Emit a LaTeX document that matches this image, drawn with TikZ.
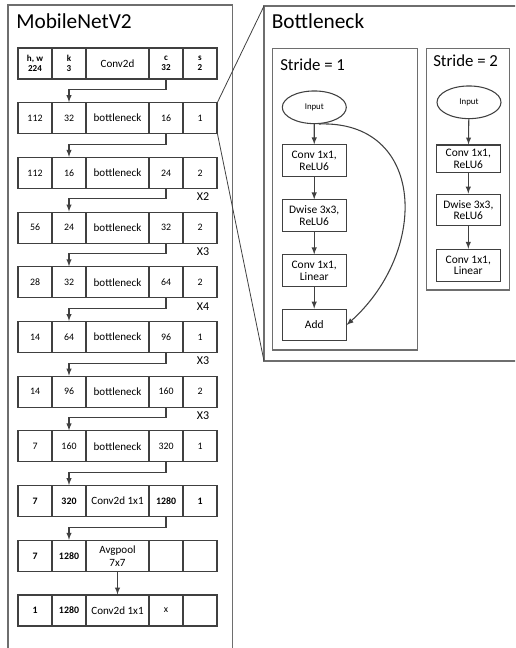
\documentclass[tikz,border=0pt]{standalone}
\usepackage{fontspec}
\setmainfont{Carlito}
\usetikzlibrary{shapes.geometric,positioning}
\definecolor{lineclr}{RGB}{64,64,64}
\definecolor{frameclr}{RGB}{110,110,110}

\begin{document}
\begin{tikzpicture}[x=0.75pt,y=0.75pt,yscale=-1,xscale=1,
  cell/.style={draw=lineclr, line width=0.8pt, minimum width=25.5pt, minimum height=23.25pt, inner sep=0.75pt, align=center, font=\fontsize{7.4}{8.4}\selectfont},
  opcell/.style={cell, minimum width=47.25pt, font=\fontsize{8.3}{9.6}\selectfont},
  hdr/.style={cell, font=\fontsize{6.8}{7.8}\selectfont\bfseries},
  bcell/.style={cell, font=\fontsize{7.4}{8.4}\selectfont\bfseries},
  blk/.style={draw=lineclr, line width=0.8pt, minimum width=47.8pt, minimum height=23.8pt, inner sep=0.75pt, align=center, font=\fontsize{8.6}{8.8}\selectfont},
  inp/.style={ellipse, draw=lineclr, line width=0.8pt, minimum width=48pt, minimum height=24.5pt, inner sep=0pt, font=\fontsize{6.6}{7}\selectfont},
  reps/.style={inner sep=0.75pt, font=\fontsize{9}{10}\selectfont},
  title/.style={anchor=base west, inner sep=0pt, font=\fontsize{16}{19}\selectfont},
  subtitle/.style={anchor=base west, inner sep=0pt, font=\fontsize{12.6}{15}\selectfont},
  flow/.style={draw=lineclr, line width=0.8pt, -latex},
  frame/.style={draw=frameclr, line width=0.8pt}]
\useasboundingbox (0,0) rectangle (515,648);
\clip (0,0) rectangle (515,648);

%Shape: Rectangle (MobileNetV2 frame)
\draw [frame] (8,5) rectangle (232.3,680);
%Shape: Rectangle (Bottleneck frame)
\draw [frame] (264,6) rectangle (540,361);
\coordinate (bntop) at (264,6);
\coordinate (bnbot) at (264,361);
%Shape: Rectangle (stride 1)
\draw [frame] (272.7,48.3) rectangle (417.7,350);
%Shape: Rectangle (stride 2)
\draw [frame] (426.7,48.3) rectangle (509.3,290);

% Text Node
\node [title] (mtitle) at (16,28.3) {MobileNetV2};
% Text Node
\node [title] (btitle) at (271.5,28.3) {Bottleneck};
% Text Node
\node [subtitle] (st1) at (280,71) {Stride = 1};
% Text Node
\node [subtitle] (st2) at (433,66.7) {Stride = 2};

% Row 1
\node [hdr] (hw1) at (35,63.5) {h, w\\224};
\node [hdr] (k1) at (69,63.5) {k\\3};
\node [opcell] (op1) at (117.5,63.5) {Conv2d};
\node [hdr] (c1) at (166,63.5) {c\\32};
\node [hdr] (s1) at (200,63.5) {s\\2};
% Row 2
\node [cell] (hw2) at (35,118.2) {112};
\node [cell] (k2) at (69,118.2) {32};
\node [opcell] (op2) at (117.5,118.2) {bottleneck};
\node [cell] (c2) at (166,118.2) {16};
\node [cell] (s2) at (200,118.2) {1};
% Row 3
\node [cell] (hw3) at (35,172.9) {112};
\node [cell] (k3) at (69,172.9) {16};
\node [opcell] (op3) at (117.5,172.9) {bottleneck};
\node [cell] (c3) at (166,172.9) {24};
\node [cell] (s3) at (200,172.9) {2};
% Row 4
\node [cell] (hw4) at (35,227.6) {56};
\node [cell] (k4) at (69,227.6) {24};
\node [opcell] (op4) at (117.5,227.6) {bottleneck};
\node [cell] (c4) at (166,227.6) {32};
\node [cell] (s4) at (200,227.6) {2};
% Row 5
\node [cell] (hw5) at (35,282.3) {28};
\node [cell] (k5) at (69,282.3) {32};
\node [opcell] (op5) at (117.5,282.3) {bottleneck};
\node [cell] (c5) at (166,282.3) {64};
\node [cell] (s5) at (200,282.3) {2};
% Row 6
\node [cell] (hw6) at (35,337) {14};
\node [cell] (k6) at (69,337) {64};
\node [opcell] (op6) at (117.5,337) {bottleneck};
\node [cell] (c6) at (166,337) {96};
\node [cell] (s6) at (200,337) {1};
% Row 7
\node [cell] (hw7) at (35,391.7) {14};
\node [cell] (k7) at (69,391.7) {96};
\node [opcell] (op7) at (117.5,391.7) {bottleneck};
\node [cell] (c7) at (166,391.7) {160};
\node [cell] (s7) at (200,391.7) {2};
% Row 8
\node [cell] (hw8) at (35,446.4) {7};
\node [cell] (k8) at (69,446.4) {160};
\node [opcell] (op8) at (117.5,446.4) {bottleneck};
\node [cell] (c8) at (166,446.4) {320};
\node [cell] (s8) at (200,446.4) {1};
% Row 9
\node [bcell] (hw9) at (35,501.1) {7};
\node [bcell] (k9) at (69,501.1) {320};
\node [opcell] (op9) at (117.5,501.1) {Conv2d 1x1};
\node [bcell] (c9) at (166,501.1) {1280};
\node [bcell] (s9) at (200,501.1) {1};
% Row 10
\node [bcell] (hw10) at (35,555.8) {7};
\node [bcell] (k10) at (69,555.8) {1280};
\node [opcell] (op10) at (117.5,555.8) {Avgpool\\7x7};
\node [cell] (c10) at (166,555.8) {};
\node [cell] (s10) at (200,555.8) {};
% Row 11
\node [bcell] (hw11) at (35,610.5) {1};
\node [bcell] (k11) at (69,610.5) {1280};
\node [opcell] (op11) at (117.5,610.5) {Conv2d 1x1};
\node [cell] (c11) at (166,610.5) {x};
\node [cell] (s11) at (200,610.5) {};

% Text Node
\node [reps] (rep3) at (203,197) {X2};
\node [reps] (rep4) at (203,251.6) {X3};
\node [reps] (rep5) at (203,306.3) {X4};
\node [reps] (rep6) at (203,361) {X3};
\node [reps] (rep7) at (203,415.7) {X3};

%Straight Lines
\draw [flow] (c1.south) -- ++(0,10) -| (k2.north);
\draw [flow] (c2.south) -- ++(0,10) -| (k3.north);
\draw [flow] (c3.south) -- ++(0,10) -| (k4.north);
\draw [flow] (c4.south) -- ++(0,10) -| (k5.north);
\draw [flow] (c5.south) -- ++(0,10) -| (k6.north);
\draw [flow] (c6.south) -- ++(0,10) -| (k7.north);
\draw [flow] (c7.south) -- ++(0,10) -| (k8.north);
\draw [flow] (c8.south) -- ++(0,10) -| (k9.north);
\draw [flow] (c9.south) -- ++(0,10) -| (k10.north);
\draw [flow] (op10.south) -- (op11.north);

%Straight Lines (zoom)
\draw [draw=lineclr, line width=0.6pt] (s2.north east) -- (bntop);
\draw [draw=lineclr, line width=0.6pt] (s2.south east) -- (bnbot);

% Stride 1
\node [inp] (in1) at (314.3,107.3) {Input};
\node [blk] (cv1) at (314.2,160.8) {Conv 1x1,\\ReLU6};
\node [blk] (dw1) at (314.2,215.8) {Dwise 3x3,\\ReLU6};
\node [blk] (ln1) at (314.2,270.8) {Conv 1x1,\\Linear};
\node [blk] (add1) at (314.2,325) {Add};
\draw [flow] (in1) -- (cv1);
\draw [flow] (cv1) -- (dw1);
\draw [flow] (dw1) -- (ln1);
\draw [flow] (ln1) -- (add1);
\draw [flow] (in1.-75) .. controls (425,120) and (430,250) .. (add1.east);

% Stride 2
\node [inp] (in2) at (469,102.3) {Input};
\node [blk, minimum height=20.5pt] (cv2) at (468.3,158.7) {Conv 1x1,\\ReLU6};
\node [blk] (dw2) at (468.3,210) {Dwise 3x3,\\ReLU6};
\node [blk] (ln2) at (468.3,265.2) {Conv 1x1,\\Linear};
\draw [flow] (in2) -- (cv2);
\draw [flow] (cv2) -- (dw2);
\draw [flow] (dw2) -- (ln2);

\end{tikzpicture}
\end{document}
